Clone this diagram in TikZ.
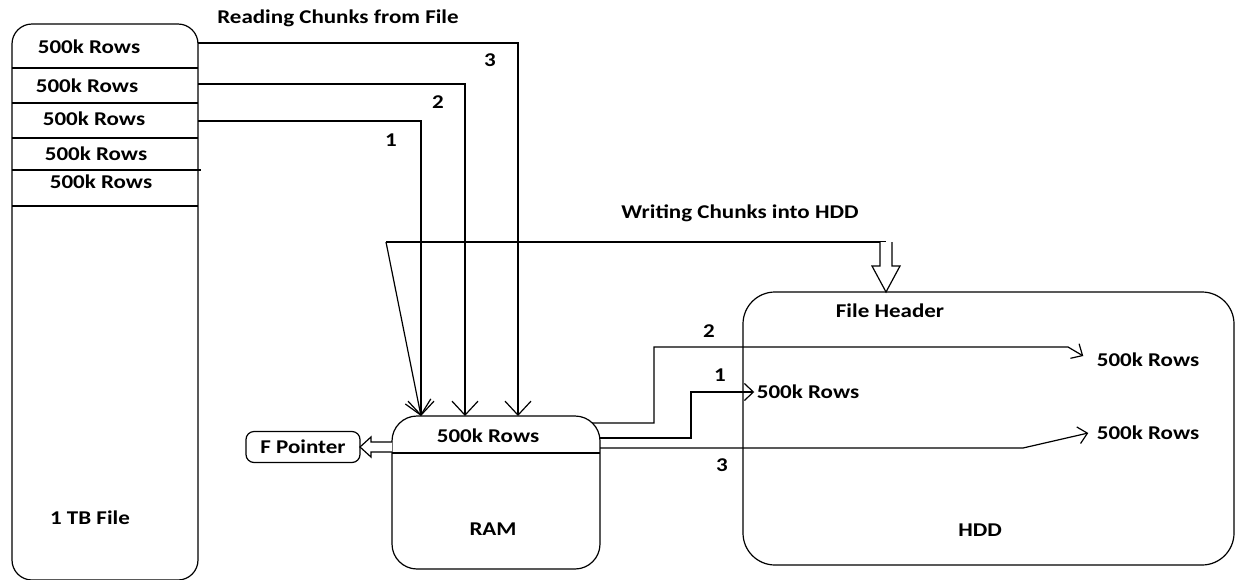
\documentclass[tikz,border=0pt]{standalone}
\usepackage{fontspec}
\setmainfont{Carlito}[FakeStretch=1.18]
\usetikzlibrary{arrows.meta}
\begin{document}
\begin{tikzpicture}[x=1pt,y=-1pt, line width=1.2pt,
  txt/.style={font=\fontsize{19.5}{23}\selectfont\bfseries, inner sep=0pt},
  box/.style={draw, inner sep=0pt, outer sep=0pt, anchor=north west},
  barb/.style={-{Straight Barb[length=14pt,width=26pt]}},
  sbarb/.style={-{Straight Barb[length=9pt,width=17pt]}},
  hollow/.style={draw, fill=white, line join=miter}]
\useasboundingbox (0,0) rectangle (1236,579);
% file
\node[box, rounded corners=20pt, minimum width=186pt, minimum height=556pt] (file) at (12,24) {};
\foreach \yy in {68,103,138,206} \draw (file.west |- 0,\yy) -- (file.east |- 0,\yy);
\draw (file.west |- 0,170) -- ([xshift=3pt]file.east |- 0,170);
\node[txt] (r1) at (89,47) {500k Rows};
\node[txt] (r2) at (87,86) {500k Rows};
\node[txt] (r3) at (94,119) {500k Rows};
\node[txt] (r4) at (96,154) {500k Rows};
\node[txt] (r5) at (101,182) {500k Rows};
\node[txt] (ftitle) at (90,518) {1 TB File};
\node[txt] (rtitle) at (338,18) {Reading Chunks from File};
\node[txt] (wtitle) at (740,213) {Writing Chunks into HDD};
% RAM
\node[box, rounded corners=25pt, minimum width=208pt, minimum height=153pt] (ram) at (392,416) {};
\draw (ram.west |- 0,453) -- (ram.east |- 0,453);
\node[txt] (ramrow) at (488,436) {500k Rows};
\node[txt] (ramlbl) at (493,529) {RAM};
% F pointer
\node[draw, txt, rounded corners=8pt, minimum width=114pt, minimum height=31pt, outer sep=0pt] (fp) at (303,447) {F Pointer};
\draw[hollow] (ram.west |- 0,442) -- (371,442) -- (371,437) -- (fp.east) -- (371,457) -- (371,452) -- (ram.west |- 0,452);
% HDD
\node[box, rounded corners=32pt, minimum width=491pt, minimum height=273pt] (hdd) at (743,292) {};
\node[txt] (fh) at (890,311) {File Header};
\node[txt] (h1) at (808,392) {500k Rows};
\node[txt] (h2) at (1148,360) {500k Rows};
\node[txt] (h3) at (1148,433) {500k Rows};
\node[txt] (hddlbl) at (980,530) {HDD};
% reading connectors
\draw[barb] (file.east |- 0,43) -- (518,43) -- (ram.north -| 518,0);
\draw[barb] (file.east |- 0,84) -- (465,84) -- (ram.north -| 465,0);
\draw[barb] (file.east |- 0,121) -- (421,121) -- (ram.north -| 421,0);
\node[txt] (l3) at (490,60) {3};
\node[txt] (l2) at (438,102) {2};
\node[txt] (l1) at (391,140) {1};
% writing
\coordinate (wl) at (386,242);
\coordinate (wr) at (886,242);
\draw[barb] (wl) -- (ram.north -| 421,0);
\draw (wl) -- (wr);
\draw[hollow] (880,242) -- (880,266) -- (872,266) -- (hdd.north -| 886,0) -- (900,266) -- (892,266) -- (892,242);
% to HDD
\draw[sbarb] (592,423) -- (654,423) -- (654,347) -- (1068,347) -- ([xshift=-13pt,yshift=4pt]h2.west);
\draw[sbarb] (ram.east |- 0,438) -- (691,438) -- (691,392) -- ([xshift=-2pt]h1.west);
\draw[sbarb] (ram.east |- 0,448) -- (1023,448) -- ([xshift=-8pt]h3.west);
\node[txt] (m2) at (709,331) {2};
\node[txt] (m1) at (720,375) {1};
\node[txt] (m3) at (722,465) {3};
\end{tikzpicture}
\end{document}
